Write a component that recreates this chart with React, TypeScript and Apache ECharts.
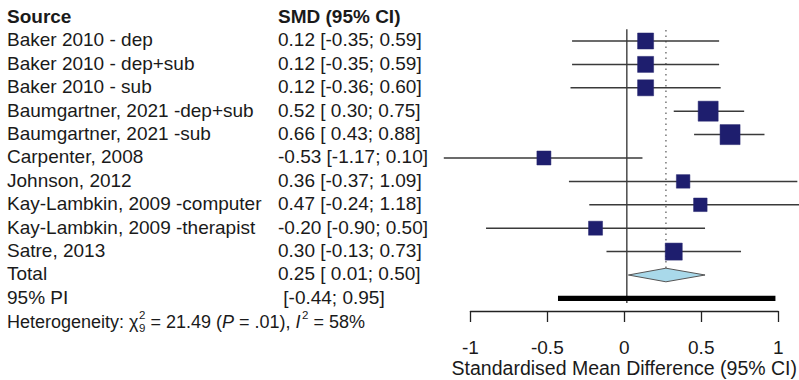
import { useEffect, useRef } from "react";
import * as echarts from "echarts";

// ---------- data ----------
const studies = [
  "Baker 2010 - dep",
  "Baker 2010 - dep+sub",
  "Baker 2010 - sub",
  "Baumgartner, 2021 -dep+sub",
  "Baumgartner, 2021 -sub",
  "Carpenter, 2008",
  "Johnson, 2012",
  "Kay-Lambkin, 2009 -computer",
  "Kay-Lambkin, 2009 -therapist",
  "Satre, 2013",
];
const smd = [0.12, 0.12, 0.12, 0.52, 0.66, -0.53, 0.36, 0.47, -0.2, 0.3];
const ciLower = [-0.35, -0.35, -0.36, 0.3, 0.43, -1.17, -0.37, -0.24, -0.9, -0.13];
const ciUpper = [0.59, 0.59, 0.6, 0.75, 0.88, 0.1, 1.09, 1.18, 0.5, 0.73];
// estimated study weights (%), box area proportional to weight
const weights = [9.8, 9.8, 9.8, 15.3, 15.3, 7.5, 7.0, 7.0, 7.5, 11.1];
const totalEst = 0.25;
const totalLower = 0.01;
const totalUpper = 0.5;
const piLower = -0.44;
const piUpper = 0.95;
const xTicks = [-1, -0.5, 0, 0.5, 1];
const hetChi2 = "21.49";
const hetDf = "9";
const hetP = ".01";
const hetI2 = "58%";

// ---------- helpers ----------
const FONT = "'Liberation Sans', Arial, sans-serif";
const TXT = "#1a1a1a";
const MAIN_FS = 19;
const HET_FS = 18;

let measureCtx: CanvasRenderingContext2D | null = null;
function tw(text: string, size: number, style = "normal", weight = "normal") {
  if (!measureCtx) measureCtx = document.createElement("canvas").getContext("2d");
  measureCtx!.font = `${style} ${weight} ${size}px 'Liberation Sans'`;
  return measureCtx!.measureText(text).width;
}
const f2 = (v: number) => v.toFixed(2);
const ciText = (e: number, lo: number, hi: number) =>
  `${f2(e)} [${lo < 0 ? "" : " "}${f2(lo)}; ${f2(hi)}]`;

const N = studies.length;
const ROW_TOTAL = N;
const ROW_PI = N + 1;
const ROW_HET = N + 2;
const ROW_HEAD = -1;

const COL1_X = 7;
const COL2_X = 278;

function txt(x: number, y: number, text: string, opts: any = {}) {
  return {
    type: "text",
    x,
    y,
    style: {
      text,
      fill: TXT,
      fontFamily: FONT,
      fontSize: opts.size ?? MAIN_FS,
      fontWeight: opts.weight ?? "normal",
      fontStyle: opts.style ?? "normal",
      align: "left",
      verticalAlign: "middle",
    },
  };
}

export default function App() {
  const ref = useRef<HTMLDivElement>(null);
  useEffect(() => {
    if (!ref.current) return;
    const chart = echarts.init(ref.current, undefined, { renderer: "svg" });

    const studyData = smd.map((e, i) => [e, i, ciLower[i], ciUpper[i], weights[i]]);
    const tableRows = [ROW_HEAD, ...studies.map((_, i) => i), ROW_TOTAL, ROW_PI, ROW_HET];

    const option: any = {
      animation: false,
      grid: [
        { left: 439.1, width: 359.8, top: 5.9, height: 327.6 },
        { left: 470.4, width: 312.9, top: 250, height: 61 },
      ],
      xAxis: [
        { type: "value", gridIndex: 0, min: -1.2, max: 1.1, show: false },
        {
          type: "value",
          gridIndex: 1,
          min: xTicks[0],
          max: xTicks[xTicks.length - 1],
          interval: 0.5,
          position: "bottom",
          axisLine: { show: true, lineStyle: { color: "#222", width: 1.3 } },
          axisTick: { show: true, length: 11, lineStyle: { color: "#222", width: 1.3 } },
          splitLine: { show: false },
          axisLabel: {
            margin: 27,
            fontSize: MAIN_FS,
            fontFamily: FONT,
            color: TXT,
            formatter: (v: number) => String(v),
          },
          name: "Standardised Mean Difference (95% CI)",
          nameLocation: "middle",
          nameGap: 47,
          nameTextStyle: { fontSize: 19.5, fontFamily: FONT, color: TXT },
        },
      ],
      yAxis: [
        { type: "value", gridIndex: 0, min: -1.5, max: 12.5, inverse: true, show: false },
        { type: "value", gridIndex: 1, show: false, min: 0, max: 1 },
      ],
      series: [
        // reference lines
        {
          type: "custom",
          xAxisIndex: 0,
          yAxisIndex: 0,
          silent: true,
          data: [[0, 0]],
          renderItem: (_p: any, api: any) => {
            const z0 = api.coord([0, -0.5]);
            const z1 = api.coord([0, 11.2]);
            const d0 = api.coord([totalEst, -0.47]);
            const d1 = api.coord([totalEst, 9.7]);
            return {
              type: "group",
              children: [
                {
                  type: "line",
                  shape: { x1: z0[0], y1: z0[1], x2: z1[0], y2: z1[1] },
                  style: { stroke: "#4a4a4a", lineWidth: 1.5 },
                },
                {
                  type: "line",
                  shape: { x1: d0[0], y1: d0[1], x2: d1[0], y2: d1[1] },
                  style: { stroke: "#777", lineWidth: 1.5, lineDash: [1.5, 4] },
                },
              ],
            };
          },
        },
        // studies: CI lines + boxes
        {
          type: "custom",
          xAxisIndex: 0,
          yAxisIndex: 0,
          silent: true,
          encode: { x: 0, y: 1 },
          data: studyData,
          renderItem: (_p: any, api: any) => {
            const row = api.value(1);
            const c = api.coord([api.value(0), row]);
            const lo = api.coord([api.value(2), row]);
            const hi = api.coord([api.value(3), row]);
            const s = 5.12 * Math.sqrt(api.value(4));
            return {
              type: "group",
              children: [
                {
                  type: "line",
                  shape: { x1: lo[0], y1: lo[1], x2: hi[0], y2: hi[1] },
                  style: { stroke: "#3a3a3a", lineWidth: 1.5 },
                },
                {
                  type: "rect",
                  shape: { x: c[0] - s / 2, y: c[1] - s / 2, width: s, height: s },
                  style: { fill: "#1e1e6e", stroke: "#26266f", lineWidth: 0.5 },
                },
              ],
            };
          },
        },
        // pooled diamond + prediction interval
        {
          type: "custom",
          xAxisIndex: 0,
          yAxisIndex: 0,
          silent: true,
          data: [[totalEst, ROW_TOTAL]],
          renderItem: (_p: any, api: any) => {
            const h = 6.8;
            const c = api.coord([totalEst, ROW_TOTAL]);
            const lo = api.coord([totalLower, ROW_TOTAL]);
            const hi = api.coord([totalUpper, ROW_TOTAL]);
            const p0 = api.coord([piLower, ROW_PI]);
            const p1 = api.coord([piUpper, ROW_PI]);
            return {
              type: "group",
              children: [
                {
                  type: "polygon",
                  shape: {
                    points: [
                      [lo[0], lo[1]],
                      [c[0], c[1] - h],
                      [hi[0], hi[1]],
                      [c[0], c[1] + h],
                    ],
                  },
                  style: { fill: "#a9d9ea", stroke: "#555", lineWidth: 1 },
                },
                {
                  type: "rect",
                  shape: { x: p0[0], y: p0[1] - 2.6, width: p1[0] - p0[0], height: 5.2 },
                  style: { fill: "#000" },
                },
              ],
            };
          },
        },
        // table text
        {
          type: "custom",
          xAxisIndex: 0,
          yAxisIndex: 0,
          silent: true,
          data: tableRows.map((r) => [0, r]),
          renderItem: (_p: any, api: any) => {
            const row = api.value(1);
            const y = api.coord([0, row])[1] - 1.2;
            const children: any[] = [];
            if (row === ROW_HEAD) {
              children.push(txt(COL1_X, y, "Source", { weight: "bold" }));
              children.push(txt(COL2_X, y, "SMD (95% CI)", { weight: "bold" }));
            } else if (row < N) {
              children.push(txt(COL1_X, y, studies[row]));
              children.push(txt(COL2_X, y, ciText(smd[row], ciLower[row], ciUpper[row])));
            } else if (row === ROW_TOTAL) {
              children.push(txt(COL1_X, y, "Total"));
              children.push(txt(COL2_X, y, ciText(totalEst, totalLower, totalUpper)));
            } else if (row === ROW_PI) {
              children.push(txt(COL1_X, y, "95% PI"));
              children.push(
                txt(COL2_X + tw(" ", MAIN_FS), y, `[${f2(piLower)}; ${f2(piUpper)}]`)
              );
            } else if (row === ROW_HET) {
              const fs = HET_FS;
              const small = 11.5;
              const sp = tw(" ", fs);
              const yh = y + 1.5;
              let x = COL1_X;
              const p1 = "Heterogeneity: χ";
              children.push(txt(x, yh, p1, { size: fs }));
              x += tw(p1, fs) + 0.5;
              children.push(txt(x, yh - 7, "2", { size: small }));
              children.push(txt(x, yh + 5.5, hetDf, { size: small }));
              x += Math.max(tw("2", small), tw(hetDf, small)) + sp;
              const p3 = `= ${hetChi2} (`;
              children.push(txt(x, yh, p3, { size: fs }));
              x += tw(p3, fs);
              children.push(txt(x, yh, "P", { size: fs, style: "italic" }));
              x += tw("P", fs, "italic") + sp;
              const p5 = `= ${hetP}),`;
              children.push(txt(x, yh, p5, { size: fs }));
              x += tw(p5, fs) + sp;
              children.push(txt(x, yh, "I", { size: fs, style: "italic" }));
              x += tw("I", fs, "italic") + 1.5;
              children.push(txt(x, yh - 7, "2", { size: small }));
              x += tw("2", small) + sp;
              children.push(txt(x, yh, `= ${hetI2}`, { size: fs }));
            }
            return { type: "group", children };
          },
        },
        // axis holder for grid 2
        { type: "line", xAxisIndex: 1, yAxisIndex: 1, data: [], silent: true },
      ],
    };
    chart.setOption(option);
    return () => chart.dispose();
  }, []);
  return (
    <div
      ref={ref}
      style={{ position: "fixed", left: 0, top: 0, width: 799, height: 380, background: "#fff" }}
    />
  );
}
